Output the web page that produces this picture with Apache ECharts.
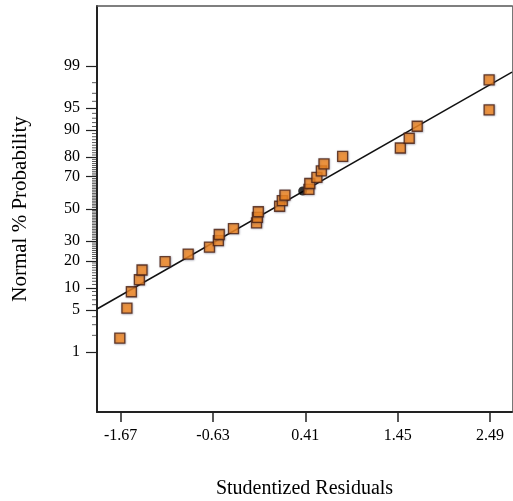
<!DOCTYPE html>
<html>
<head>
<meta charset="utf-8">
<script src="https://cdn.jsdelivr.net/npm/echarts@6/dist/echarts.min.js"></script>
<style>
  html, body { margin: 0; padding: 0; background: #ffffff; }
  #chart { width: 513px; height: 501px; }
</style>
</head>
<body>
<div id="chart"></div>
<script>
// Studentized residuals, sorted, with their normal-plot probabilities (%)
const residuals = [
  -1.68, -1.60, -1.55, -1.46, -1.43, -1.17, -0.91, -0.67, -0.57, -0.56,
  -0.40, -0.14, -0.13, -0.12, 0.12, 0.15, 0.18, 0.45, 0.46, 0.54,
  0.59, 0.62, 0.83, 1.48, 1.58, 1.67, 2.48, 2.48
];
const probabilities = [
  1.79, 5.36, 8.93, 12.5, 16.07, 19.64, 23.21, 26.79, 30.36, 33.93,
  37.5, 41.07, 44.64, 48.21, 51.79, 55.36, 58.93, 62.5, 66.07, 69.64,
  73.21, 76.79, 80.36, 83.93, 87.5, 91.07, 94.64, 98.21
];

// Highlighted point
const markedResidual = [0.38];
const markedProbability = [61.5];

// Reference line end points
const lineResidual = [-1.937, 2.738];
const lineProbability = [5.2, 98.7];

// Axis ticks
const xTickValues = [-1.67, -0.63, 0.41, 1.45, 2.49];
const yTickLabels = [1, 5, 10, 20, 30, 50, 70, 80, 90, 95, 99];

// Inverse standard normal CDF (Acklam) — maps % probability onto the probit scale
function probit(pct) {
  const p = pct / 100;
  const a = [-3.969683028665376e+01, 2.209460984245205e+02, -2.759285104469687e+02,
             1.383577518672690e+02, -3.066479806614716e+01, 2.506628277459239e+00];
  const b = [-5.447609879822406e+01, 1.615858368580409e+02, -1.556989798598866e+02,
             6.680131188771972e+01, -1.328068155288572e+01];
  const c = [-7.784894002430293e-03, -3.223964580411365e-01, -2.400758277161838e+00,
             -2.549732539343734e+00, 4.374664141464968e+00, 2.938163982698783e+00];
  const d = [7.784695709041462e-03, 3.224671290700398e-01, 2.445134137142996e+00,
             3.754408661907416e+00];
  const pl = 0.02425, ph = 1 - pl;
  let q, r;
  if (p < pl) {
    q = Math.sqrt(-2 * Math.log(p));
    return (((((c[0]*q+c[1])*q+c[2])*q+c[3])*q+c[4])*q+c[5]) /
           ((((d[0]*q+d[1])*q+d[2])*q+d[3])*q+1);
  }
  if (p <= ph) {
    q = p - 0.5; r = q * q;
    return (((((a[0]*r+a[1])*r+a[2])*r+a[3])*r+a[4])*r+a[5])*q /
           (((((b[0]*r+b[1])*r+b[2])*r+b[3])*r+b[4])*r+1);
  }
  q = Math.sqrt(-2 * Math.log(1 - p));
  return -(((((c[0]*q+c[1])*q+c[2])*q+c[3])*q+c[4])*q+c[5]) /
          ((((d[0]*q+d[1])*q+d[2])*q+d[3])*q+1);
}

const X_MIN = -1.937, X_MAX = 2.738, Z_MIN = -3.3, Z_MAX = 3.3;

const majorZ = yTickLabels.map(probit);
// Minor probability ticks at every whole percent between the labelled ones
const minorTickData = [];
for (let k = 1; k <= 99; k++) {
  if (yTickLabels.indexOf(k) < 0) minorTickData.push([X_MIN, probit(k)]);
}

const pointData = residuals.map((r, i) => [r, probit(probabilities[i])]);
const markedData = markedResidual.map((r, i) => [r, probit(markedProbability[i])]);
const lineData = lineResidual.map((r, i) => [r, probit(lineProbability[i])]);

const serif = 'Liberation Serif, Times New Roman, serif';

// Plain frame edge: an axis with only its line drawn
function frameAxis(position, min, max, color, width) {
  return {
    type: 'value', min, max, position,
    axisLine: { show: true, onZero: false, lineStyle: { color, width } },
    axisTick: { show: false }, axisLabel: { show: false }, splitLine: { show: false }
  };
}

const chart = echarts.init(document.getElementById('chart'), null, { renderer: 'canvas' });

chart.setOption({
  animation: false,
  backgroundColor: '#ffffff',
  grid: { left: 97, top: 6, right: 1, bottom: 89, containLabel: false, outerBoundsMode: 'none' },
  xAxis: [
    {
      type: 'value',
      min: X_MIN, max: X_MAX,
      position: 'bottom',
      name: 'Studentized Residuals',
      nameLocation: 'middle',
      nameGap: 67,
      nameTextStyle: { fontFamily: serif, fontSize: 20, color: '#000' },
      axisLine: { show: true, onZero: false, lineStyle: { color: '#222', width: 2 } },
      axisTick: { show: true, inside: false, length: 10, customValues: xTickValues,
                  lineStyle: { color: '#222', width: 1.5 } },
      axisLabel: { customValues: xTickValues, margin: 16,
                   fontFamily: serif, fontSize: 16, color: '#000',
                   formatter: v => v.toFixed(2) },
      splitLine: { show: false }
    },
    frameAxis('top', X_MIN, X_MAX, '#555', 1.5)
  ],
  yAxis: [
    {
      type: 'value',
      min: Z_MIN, max: Z_MAX,
      position: 'left',
      name: 'Normal % Probability',
      nameLocation: 'middle',
      nameGap: 66,
      nameTextStyle: { fontFamily: serif, fontSize: 21, color: '#000' },
      axisLine: { show: true, onZero: false, lineStyle: { color: '#222', width: 2 } },
      axisTick: { show: true, inside: false, length: 11, customValues: majorZ,
                  lineStyle: { color: '#222', width: 1.2 } },
      axisLabel: {
        customValues: majorZ, margin: 17,
        fontFamily: serif, fontSize: 16, color: '#000',
        formatter: v => {
          let best = 0, bd = Infinity;
          majorZ.forEach((z, i) => { const d = Math.abs(z - v); if (d < bd) { bd = d; best = i; } });
          return String(yTickLabels[best]);
        }
      },
      splitLine: { show: false }
    },
    frameAxis('right', Z_MIN, Z_MAX, '#777', 1)
  ],
  series: [
    {
      // short minor ticks just outside the probability axis
      type: 'scatter',
      data: minorTickData,
      symbol: 'rect',
      symbolSize: [4, 1],
      symbolOffset: [-3, 0],
      clip: false,
      silent: true,
      itemStyle: { color: '#333' },
      z: 1
    },
    {
      type: 'line',
      data: lineData,
      symbol: 'none',
      lineStyle: { color: '#111', width: 1.5 },
      z: 2
    },
    {
      type: 'scatter',
      data: markedData,
      symbol: 'circle',
      symbolSize: 9,
      itemStyle: { color: '#000' },
      z: 3
    },
    {
      type: 'scatter',
      data: pointData,
      symbol: 'rect',
      symbolSize: 10,
      itemStyle: {
        color: '#F7881E', borderColor: '#4a1f12', borderWidth: 1.3,
        shadowColor: 'rgba(60,60,90,0.45)', shadowBlur: 2, shadowOffsetX: 0.5, shadowOffsetY: 0.5
      },
      z: 4
    }
  ]
});
</script>
</body>
</html>
